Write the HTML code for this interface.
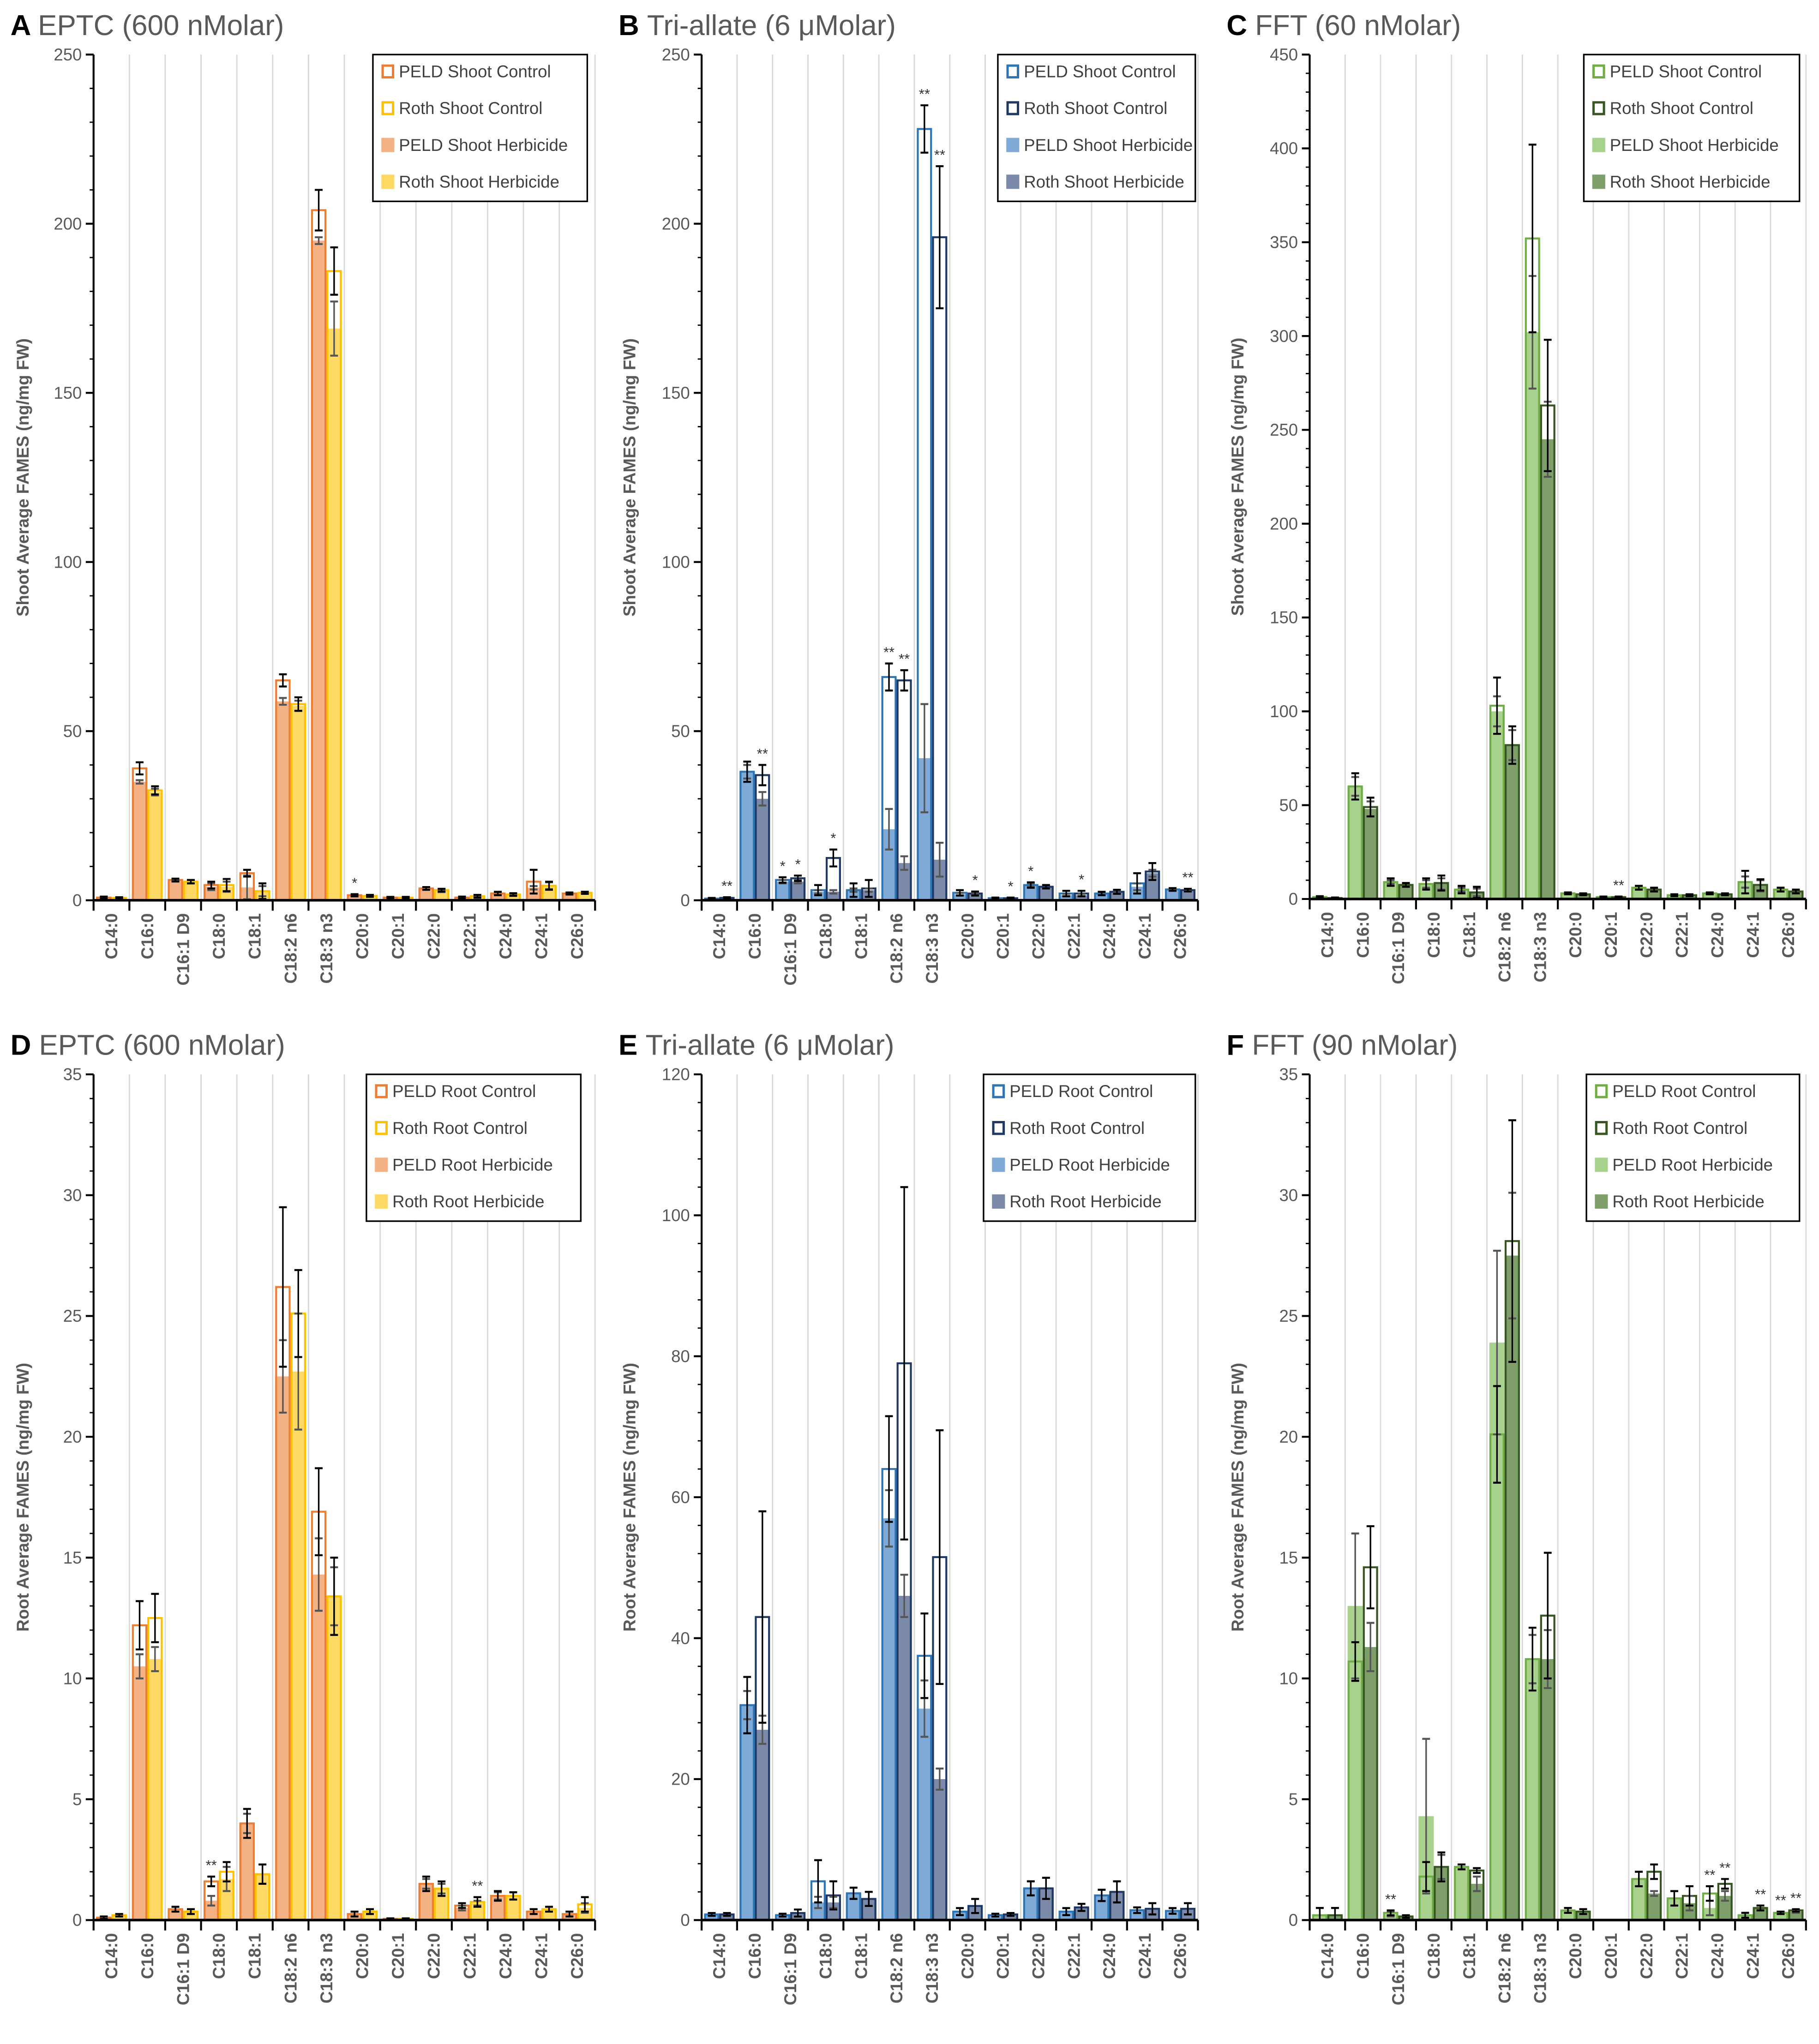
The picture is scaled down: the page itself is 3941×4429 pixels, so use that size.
<!DOCTYPE html>
<html><head><meta charset="utf-8"><style>
html,body{margin:0;padding:0;background:#fff;}
svg{display:block;}
text{font-family:"Liberation Sans",sans-serif;}
</style></head><body>
<svg id="fig" width="3941" height="4429" viewBox="0 0 1400 1573.4" xmlns="http://www.w3.org/2000/svg"></svg>
<script>
const categories=["C14:0","C16:0","C16:1 D9","C18:0","C18:1","C18:2 n6","C18:3 n3","C20:0","C20:1","C22:0","C22:1","C24:0","C24:1","C26:0"];
// Panel A EPTC shoot
const A_pc=[0.8,39,6,4.5,8,65,204,1.5,0.8,3.5,0.8,2,5.5,2];
const A_rc=[0.7,32.5,5.5,4.5,2.7,58,186,1.3,0.8,3,1.2,1.7,4.3,2.2];
const A_ph=[0.8,35,5.8,4,3.8,58.8,195,1.3,0.7,3.5,0.5,2,3.7,2];
const A_rh=[0.6,32,5.5,4,2.7,57.5,169,1.2,0.7,2.8,1,1.7,4.3,2.2];
const A_pce=[0.3,1.8,0.4,1,1,1.8,6,0.3,0.2,0.4,0.3,0.5,3.5,0.3];
const A_rce=[0.2,1.2,0.5,1.8,2.3,2,7,0.3,0.2,0.4,0.4,0.4,1.2,0.3];
const A_phe=[0.2,0.5,0.3,1,3.5,1,1,0.2,0.2,0.4,0.3,0.4,0.5,0.3];
const A_rhe=[0.2,1,0.5,1.5,1.5,1.5,8,0.2,0.2,0.4,0.3,0.3,1,0.3];
const A_sp=["","","","","","","","*","","","","","",""];
const A_sr=["","","","","","","","","","","","","",""];
const A_ticks=[0,50,100,150,200,250];
// Panel B tri-allate shoot
const B_pc=[0.5,38,6,3,3,66,228,2.2,0.6,4.5,2,2,5,3.2];
const B_rc=[0.7,37,6.5,12.5,3.5,65,196,2,0.6,4,2,2.5,8.5,3];
const B_ph=[0.5,38,5.5,2.5,3,21,42,1.8,0.5,4.5,1.5,2,4,3.2];
const B_rh=[0.6,30,5.5,2.5,3,11,12,1.8,0.5,4,1.5,2.5,8,3];
const B_pce=[0.2,3,0.8,1.5,2,4,7,0.8,0.2,0.8,0.8,0.5,3,0.4];
const B_rce=[0.2,3,0.8,2.5,2.5,3,21,0.6,0.2,0.5,0.8,0.6,2.5,0.4];
const B_phe=[0.2,2,0.5,0.5,0.5,6,16,0.4,0.2,0.5,0.4,0.4,1,0.3];
const B_rhe=[0.2,2,0.5,0.5,0.5,2,5,0.4,0.2,0.5,0.4,0.4,1,0.3];
const B_sp=["","","*","","","**","**","","","*","","","",""];
const B_sr=["**","**","*","*","","**","**","*","*","","*","","","**"];
const B_ticks=[0,50,100,150,200,250];
// Panel C FFT shoot
const C_pc=[1,60,9,8,5,103,352,3,1,6,2,3,9,5];
const C_rc=[0.5,49,7.5,8.5,3.5,82,263,2.5,1,5,2,2.5,7.5,4];
const C_ph=[1,60,9,8,5,100,302,3,1,6,2,3,9,5];
const C_rh=[0.5,48,7.5,8,3.5,82,245,2.5,1,5,2,2.5,7,4];
const C_pce=[0.5,7,2,3,2,15,50,0.5,0.3,1,0.5,0.5,6,1];
const C_rce=[0.3,5,1,4,3,10,35,0.5,0.3,1,0.5,0.5,3,1];
const C_phe=[0.3,5,1,2,1,8,30,0.5,0.3,1,0.5,0.5,3,1];
const C_rhe=[0.3,4,1,3,2,8,20,0.5,0.3,1,0.5,0.5,3,1];
const C_sp=["","","","","","","","","","","","","",""];
const C_sr=["","","","","","","","","**","","","","",""];
const C_ticks=[0,50,100,150,200,250,300,350,400,450];
// Panel D EPTC root
const D_pc=[0.1,12.2,0.45,1.6,4,26.2,16.9,0.25,0.05,1.5,0.6,1,0.35,0.25];
const D_rc=[0.2,12.5,0.35,2,1.9,25.1,13.4,0.35,0.05,1.3,0.75,1,0.45,0.65];
const D_ph=[0.1,10.5,0.45,0.8,4,22.5,14.3,0.25,0.05,1.5,0.5,1,0.35,0.25];
const D_rh=[0.2,10.8,0.35,1.7,1.9,22.7,13.4,0.35,0.05,1.3,0.7,1,0.45,0.5];
const D_pce=[0.05,1,0.1,0.2,0.6,3.3,1.8,0.1,0.02,0.3,0.1,0.2,0.1,0.1];
const D_rce=[0.05,1,0.1,0.4,0.4,1.8,1.6,0.1,0.02,0.3,0.2,0.15,0.1,0.3];
const D_phe=[0.05,0.5,0.1,0.2,0.4,1.5,1.5,0.1,0.02,0.2,0.1,0.15,0.1,0.1];
const D_rhe=[0.05,0.5,0.1,0.5,0.4,2.4,1.2,0.1,0.02,0.2,0.1,0.15,0.1,0.2];
const D_sp=["","","","**","","","","","","","","","",""];
const D_sr=["","","","","","","","","","","**","","",""];
const D_ticks=[0,5,10,15,20,25,30,35];
// Panel E tri-allate root
const E_pc=[0.8,30.5,0.7,5.5,3.8,64,37.5,1.2,0.7,4.5,1.2,3.5,1.4,1.3];
const E_rc=[0.8,43,1,3.5,3,79,51.5,2,0.8,4.5,1.8,4,1.6,1.6];
const E_ph=[0.8,30.5,0.7,2.5,3.8,57,30,1.2,0.7,4.5,1.2,3.5,1.4,1.3];
const E_rh=[0.8,27,1,2.5,3,46,20,2,0.8,4.5,1.8,4,1.6,1.6];
const E_pce=[0.2,4,0.2,3,0.8,7.5,6,0.5,0.2,1,0.5,0.8,0.4,0.4];
const E_rce=[0.2,15,0.5,2,1,25,18,1,0.2,1.5,0.5,1.5,0.8,0.8];
const E_phe=[0.2,2,0.2,0.8,0.8,4,4,0.5,0.2,1,0.5,0.8,0.4,0.4];
const E_rhe=[0.2,2,0.5,0.8,1,3,1.5,1,0.2,1.5,0.5,1.5,0.8,0.8];
const E_sp=["","","","","","","","","","","","","",""];
const E_sr=["","","","","","","","","","","","","",""];
const E_ticks=[0,20,40,60,80,100,120];
// Panel F FFT root
const F_pc=[0.2,10.7,0.3,1.8,2.2,20.1,10.8,0.4,0,1.7,0.9,1.1,0.2,0.3];
const F_rc=[0.2,14.6,0.15,2.2,2.05,28.1,12.6,0.35,0,2,1,1.5,0.5,0.4];
const F_ph=[0.2,13,0.25,4.3,2.2,23.9,10.8,0.4,0,1.7,0.9,0.5,0.2,0.3];
const F_rh=[0.2,11.3,0.15,2.2,1.5,27.5,10.8,0.35,0,1.1,0.7,1,0.5,0.35];
const F_pce=[0.3,0.8,0.1,0.6,0.1,2,1.3,0.1,0,0.3,0.3,0.3,0.1,0.05];
const F_rce=[0.3,1.7,0.05,0.6,0.1,5,2.6,0.1,0,0.3,0.4,0.2,0.1,0.05];
const F_phe=[0.3,3,0.1,3.2,0.1,3.8,1,0.1,0,0.3,0.3,0.3,0.1,0.05];
const F_rhe=[0.3,1,0.05,0.5,0.3,2.6,1.2,0.1,0,0.1,0.3,0.2,0.1,0.05];
const F_sp=["","","**","","","","","","","","","**","","**"];
const F_sr=["","","","","","","","","","","","**","**","**"];
const F_ticks=[0,5,10,15,20,25,30,35];

const NS="http://www.w3.org/2000/svg";
const svg=document.getElementById('fig');
function el(tag,attrs,parent){const e=document.createElementNS(NS,tag);for(const k in attrs)e.setAttribute(k,attrs[k]);(parent||svg).appendChild(e);return e;}

const panels=[
 {id:"a",letter:"A",title:"EPTC (600 nMolar)",x0:72,x1:458,top:42,base:693,ticks:A_ticks,pc:A_pc,rc:A_rc,ph:A_ph,rh:A_rh,pce:A_pce,rce:A_rce,phe:A_phe,rhe:A_rhe,sp:A_sp,sr:A_sr,
  col:["#ed7d31","#ffc000","#f4b183","#ffd966"],leg:["PELD Shoot Control","Roth Shoot Control","PELD Shoot Herbicide","Roth Shoot Herbicide"],lx:287,lw:165,ytitle:"Shoot Average FAMES (ng/mg FW)",tx:22},
 {id:"b",letter:"B",title:"Tri-allate (6 μMolar)",x0:540,x1:922,top:42,base:693,ticks:B_ticks,pc:B_pc,rc:B_rc,ph:B_ph,rh:B_rh,pce:B_pce,rce:B_rce,phe:B_phe,rhe:B_rhe,sp:B_sp,sr:B_sr,
  col:["#2e75b6","#1f3864","#7fa9d6","#7a8aa8"],leg:["PELD Shoot Control","Roth Shoot Control","PELD Shoot Herbicide","Roth Shoot Herbicide"],lx:768,lw:152,ytitle:"Shoot Average FAMES (ng/mg FW)",tx:489},
 {id:"c",letter:"C",title:"FFT (60 nMolar)",x0:1008,x1:1390,top:42,base:692,ticks:C_ticks,pc:C_pc,rc:C_rc,ph:C_ph,rh:C_rh,pce:C_pce,rce:C_rce,phe:C_phe,rhe:C_rhe,sp:C_sp,sr:C_sr,
  col:["#70ad47","#375623","#a9d18e","#7f9f6a"],leg:["PELD Shoot Control","Roth Shoot Control","PELD Shoot Herbicide","Roth Shoot Herbicide"],lx:1219,lw:166,ytitle:"Shoot Average FAMES (ng/mg FW)",tx:957},
 {id:"d",letter:"D",title:"EPTC (600 nMolar)",x0:72,x1:458,top:827,base:1478,ticks:D_ticks,pc:D_pc,rc:D_rc,ph:D_ph,rh:D_rh,pce:D_pce,rce:D_rce,phe:D_phe,rhe:D_rhe,sp:D_sp,sr:D_sr,
  col:["#ed7d31","#ffc000","#f4b183","#ffd966"],leg:["PELD Root Control","Roth Root Control","PELD Root Herbicide","Roth Root Herbicide"],lx:282,lw:165,ytitle:"Root Average FAMES (ng/mg FW)",tx:22},
 {id:"e",letter:"E",title:"Tri-allate (6 μMolar)",x0:540,x1:922,top:827,base:1478,ticks:E_ticks,pc:E_pc,rc:E_rc,ph:E_ph,rh:E_rh,pce:E_pce,rce:E_rce,phe:E_phe,rhe:E_rhe,sp:E_sp,sr:E_sr,
  col:["#2e75b6","#1f3864","#7fa9d6","#7a8aa8"],leg:["PELD Root Control","Roth Root Control","PELD Root Herbicide","Roth Root Herbicide"],lx:757,lw:163,ytitle:"Root Average FAMES (ng/mg FW)",tx:489},
 {id:"f",letter:"F",title:"FFT (90 nMolar)",x0:1008,x1:1390,top:827,base:1478,ticks:F_ticks,pc:F_pc,rc:F_rc,ph:F_ph,rh:F_rh,pce:F_pce,rce:F_rce,phe:F_phe,rhe:F_rhe,sp:F_sp,sr:F_sr,
  col:["#70ad47","#375623","#a9d18e","#7f9f6a"],leg:["PELD Root Control","Roth Root Control","PELD Root Herbicide","Roth Root Herbicide"],lx:1221,lw:164,ytitle:"Root Average FAMES (ng/mg FW)",tx:957}
];

panels.forEach(p=>{
  const g=el('g',{});
  
  
  const n=categories.length, cw=(p.x1-p.x0)/n;
  const ymax=p.ticks[p.ticks.length-1];
  const ys=v=>p.base-(v/ymax)*(p.base-p.top);
  const xc=i=>p.x0+cw*i;
  // title
  const t=el('text',{x:p.x0-64,y:p.top-15,'font-size':22,fill:'#595959'},g);
  
  
  const ts=el('tspan',{'font-weight':'bold',fill:'#000'},t);ts.textContent=p.letter+' ';
  const ts2=el('tspan',{},t);ts2.textContent=p.title;
  // gridlines
  for(let i=1;i<=n;i++){el('line',{x1:xc(i),x2:xc(i),y1:p.top,y2:p.base,stroke:'#d9d9d9','stroke-width':1},g);}
  // y axis + ticks
  const ax=el('line',{x1:p.x0,x2:p.x0,y1:p.top,y2:p.base,stroke:'#000','stroke-width':1.5},g);
  
  
  const step=p.ticks[1]-p.ticks[0], minor=step/5;
  for(let v=0;v<=ymax+1e-9;v+=minor){el('line',{x1:p.x0-3,x2:p.x0,y1:ys(v),y2:ys(v),stroke:'#000','stroke-width':1},g);}
  p.ticks.forEach(v=>{
    el('line',{x1:p.x0-6,x2:p.x0,y1:ys(v),y2:ys(v),stroke:'#000','stroke-width':1.5},g);
    const tl=el('text',{x:p.x0-9,y:ys(v)+4.5,'text-anchor':'end','font-size':13,fill:'#595959'},g);
    
    
    tl.textContent=v;
  });
  const yt=el('text',{x:0,y:0,'text-anchor':'middle','font-size':13,'font-weight':'bold',fill:'#595959',transform:`translate(${p.tx},${(p.top+p.base)/2}) rotate(-90)`},g);
  
  
  yt.textContent=p.ytitle;
  // bars
  const bw=cw*0.43;
  const drawBar=(i,side,val,fill,stroke)=>{
    const x=xc(i)+cw*0.07+side*bw;
    const r=el('rect',{x:x+(stroke?0.75:0),y:ys(val),width:bw-(stroke?1.5:0),height:Math.max(0,p.base-ys(val)),fill:fill,stroke:stroke||'none','stroke-width':1.5},g);
    
    
  };
  const drawErr=(i,side,val,err,color)=>{
    if(err<=0)return;
    const cx=xc(i)+cw*0.07+side*bw+bw/2;
    el('line',{x1:cx,x2:cx,y1:ys(val+err),y2:ys(Math.max(0,val-err)),stroke:color,'stroke-width':1.2},g);
    el('line',{x1:cx-3,x2:cx+3,y1:ys(val+err),y2:ys(val+err),stroke:color,'stroke-width':1.5},g);
    el('line',{x1:cx-3,x2:cx+3,y1:ys(Math.max(0,val-err)),y2:ys(Math.max(0,val-err)),stroke:color,'stroke-width':1.5},g);
  };
  for(let i=0;i<n;i++){
    drawBar(i,0,p.ph[i],p.col[2],null);
    drawBar(i,1,p.rh[i],p.col[3],null);
    drawBar(i,0,p.pc[i],'none',p.col[0]);
    drawBar(i,1,p.rc[i],'none',p.col[1]);
    drawErr(i,0,p.ph[i],p.phe[i],'#555');
    drawErr(i,1,p.rh[i],p.rhe[i],'#555');
    drawErr(i,0,p.pc[i],p.pce[i],'#000');
    drawErr(i,1,p.rc[i],p.rce[i],'#000');
    [[p.sp,0,p.pc,p.pce,p.ph,p.phe],[p.sr,1,p.rc,p.rce,p.rh,p.rhe]].forEach(([s,side,c,ce,h,he])=>{
      if(!s[i])return;
      const top=Math.max(c[i]+ce[i],h[i]+he[i]);
      const st=el('text',{x:xc(i)+cw*0.07+side*bw+bw/2,y:ys(top)-5,'text-anchor':'middle','font-size':11,fill:'#333'},g);
      
      
      st.textContent=s[i];
    });
  }
  // x axis
  const xa=el('line',{x1:p.x0,x2:p.x1,y1:p.base,y2:p.base,stroke:'#000','stroke-width':2},g);
  
  
  for(let i=0;i<=n;i++){el('line',{x1:xc(i),x2:xc(i),y1:p.base,y2:p.base+8,stroke:'#000','stroke-width':1.5},g);}
  categories.forEach((c,i)=>{
    const cx=xc(i)+cw/2+4.5;
    const xl=el('text',{x:0,y:0,'text-anchor':'end','font-size':13,'font-weight':'bold',fill:'#595959',transform:`translate(${cx},${p.base+10}) rotate(-90)`},g);
    
    
    xl.textContent=c;
  });
  // legend
  const lg=el('g',{},g);
  
  
  el('rect',{x:p.lx,y:p.top,width:p.lw,height:113,fill:'#fff',stroke:'#000','stroke-width':1.2},lg);
  p.leg.forEach((name,k)=>{
    const ly=p.top+13+k*28.3;
    const e=el('g',{},lg);
    
    
    if(k<2) el('rect',{x:p.lx+7.5,y:ly-4.5,width:8,height:9,fill:'none',stroke:p.col[k],'stroke-width':1.8},e);
    else el('rect',{x:p.lx+6.5,y:ly-5.5,width:10,height:11,fill:p.col[k]},e);
    const tx=el('text',{x:p.lx+20,y:ly+4.5,'font-size':13,fill:'#404040'},e);
    tx.textContent=name;
  });
});
</script>
</body></html>
